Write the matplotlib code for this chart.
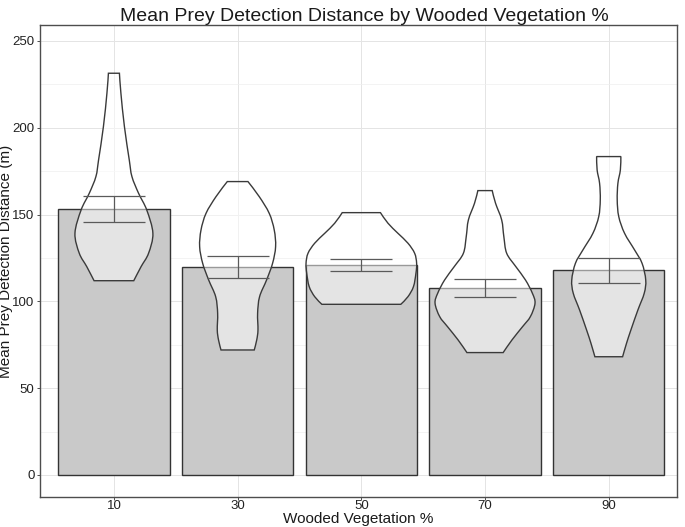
import numpy as np
import matplotlib
matplotlib.use("Agg")
import matplotlib.pyplot as plt
from matplotlib.path import Path
from matplotlib.patches import PathPatch

plt.rcParams['font.family'] = ['Liberation Sans', 'DejaVu Sans']

# data
veg = [10, 30, 50, 70, 90]
mean_dist = [153.2, 119.8, 120.9, 107.7, 117.8]
se_dist = [7.3, 6.1, 3.45, 5.45, 7.4]

# violin outlines: distance (m) from top to bottom and half width (x units)
v10_y = [231.4, 219.9, 200.6, 181.5, 171.9, 162.3, 152.6, 139.2, 127.7, 120.0, 111.9]
v10_w = [0.89, 1.13, 1.70, 2.48, 2.91, 3.98, 5.31, 6.30, 5.60, 4.39, 3.21]
v30_y = [169.0, 160.3, 150.7, 141.1, 131.5, 121.9, 112.3, 102.7, 93.1, 83.5, 77.8, 72.0]
v30_w = [1.67, 3.50, 5.11, 5.92, 6.14, 5.65, 4.68, 3.55, 3.23, 3.29, 3.09, 2.69]
v50_y = [151.1, 145.0, 139.2, 133.5, 127.7, 121.9, 116.2, 108.5, 102.7, 98.3]
v50_w = [3.09, 4.31, 5.92, 7.54, 8.62, 8.94, 8.83, 8.43, 7.54, 6.38]
v70_y = [163.8, 156.5, 146.9, 137.3, 127.7, 120.0, 112.3, 104.7, 98.9, 91.2, 85.4, 77.8, 70.5]
v70_w = [1.16, 1.70, 2.69, 3.04, 3.50, 4.98, 6.54, 7.65, 8.08, 7.33, 6.06, 4.36, 2.93]
v90_y = [183.4, 175.7, 168.0, 158.4, 148.8, 139.2, 129.6, 121.9, 112.3, 104.7, 95.0, 83.5, 75.9, 68.1]
v90_w = [1.96, 1.88, 1.48, 1.37, 1.62, 2.56, 4.18, 5.39, 5.98, 5.74, 4.71, 3.58, 2.88, 2.24]
violin_y = [v10_y, v30_y, v50_y, v70_y, v90_y]
violin_w = [v10_w, v30_w, v50_w, v70_w, v90_w]

bar_width = 18
cap_half = 5


def smooth_segments(pts):
    # catmull-rom through pts, returned as cubic bezier vertices
    pts = np.asarray(pts, dtype=float)
    ext = np.vstack([pts[0], pts, pts[-1]])
    verts, codes = [], []
    for i in range(1, len(ext) - 2):
        p0, p1, p2, p3 = ext[i - 1], ext[i], ext[i + 1], ext[i + 2]
        c1 = p1 + (p2 - p0) / 6
        c2 = p2 - (p3 - p1) / 6
        verts += [c1, c2, p2]
        codes += [Path.CURVE4] * 3
    return verts, codes


def violin_path(cx, ys, ws):
    ys = np.asarray(ys)
    ws = np.asarray(ws)
    right = np.column_stack([cx + ws, ys])
    left = np.column_stack([cx - ws, ys])[::-1]
    verts = [right[0]]
    codes = [Path.MOVETO]
    v, c = smooth_segments(right)
    verts += v
    codes += c
    verts.append(left[0])
    codes.append(Path.LINETO)
    v, c = smooth_segments(left)
    verts += v
    codes += c
    verts.append(right[0])
    codes.append(Path.CLOSEPOLY)
    return Path(np.array(verts), codes)


fig = plt.figure(figsize=(6.85, 5.27), dpi=100)
ax = fig.add_axes([0.0584, 0.0569, 0.9296, 0.8957])

ax.bar(veg, mean_dist, width=bar_width, color='#c9c9c9', edgecolor='#333333',
       linewidth=1.0, zorder=2)

for cx, ys, ws in zip(veg, violin_y, violin_w):
    patch = PathPatch(violin_path(cx, ys, ws), facecolor=(1, 1, 1, 0.5),
                      edgecolor='#3a3a3a', linewidth=1.0, zorder=3)
    ax.add_patch(patch)

m = np.array(mean_dist)
s = np.array(se_dist)
x = np.array(veg)
ax.vlines(x, m - s, m + s, color='#5a5a5a', linewidth=0.9, zorder=4)
ax.hlines(m - s, x - cap_half, x + cap_half, color='#5a5a5a', linewidth=0.9, zorder=4)
ax.hlines(m + s, x - cap_half, x + cap_half, color='#5a5a5a', linewidth=0.9, zorder=4)

ax.set_xlim(-1.95, 101.0)
ax.set_ylim(-12.7, 259.2)
ax.set_xticks(veg)
ax.set_yticks([0, 50, 100, 150, 200, 250])
ax.set_yticks([25, 75, 125, 175, 225], minor=True)
ax.tick_params(axis='x', which='minor', bottom=False)
ax.tick_params(which='major', length=2.5, width=0.6, color='#333333',
               labelsize=9.5, labelcolor='#222222')
ax.tick_params(axis='x', pad=0)
ax.tick_params(axis='y', pad=1.5)
ax.tick_params(axis='y', which='minor', length=0)

ax.grid(True, which='major', color='#e4e4e4', linewidth=0.7, zorder=0)
ax.grid(True, which='minor', axis='y', color='#efefef', linewidth=0.5, zorder=0)
ax.set_axisbelow(True)
for sp in ax.spines.values():
    sp.set_color('#4d4d4d')
    sp.set_linewidth(1.0)

ax.set_title('Mean Prey Detection Distance by Wooded Vegetation %',
             fontsize=14, color='#1a1a1a', pad=3, x=0.51)
ax.set_xlabel('Wooded Vegetation %', fontsize=11, color='#1a1a1a', va='bottom')
ax.set_ylabel('Mean Prey Detection Distance (m)', fontsize=11, color='#1a1a1a')
ax.xaxis.set_label_coords(0.5, -0.0605)
ax.yaxis.set_label_coords(-0.043, 0.5)

fig.savefig('out.png', dpi=100)
